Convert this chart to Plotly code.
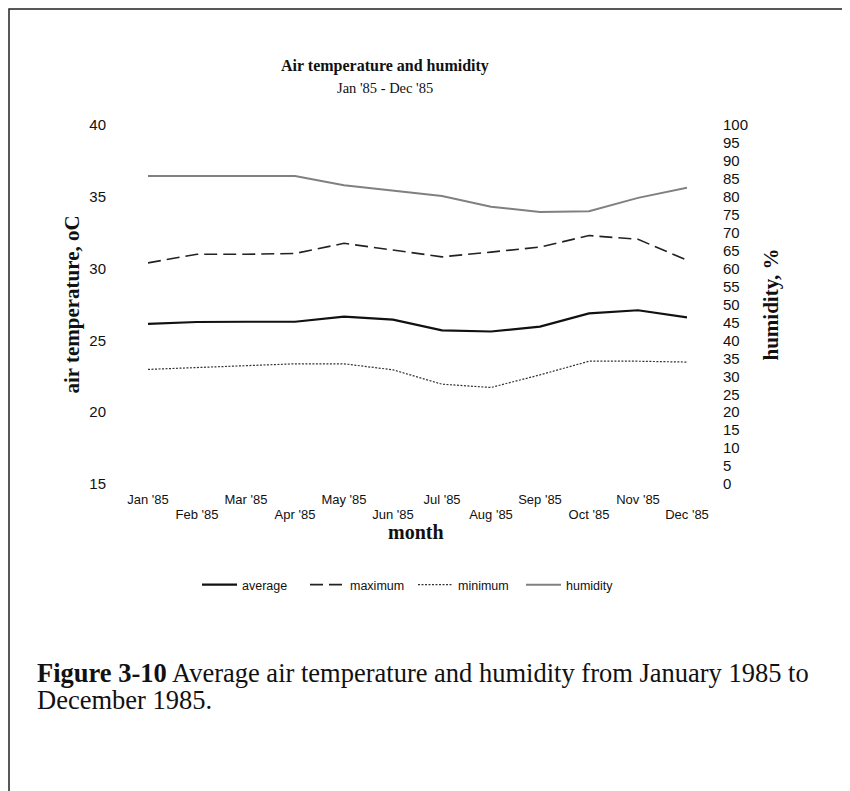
import plotly.graph_objects as go

months = ["Jan '85", "Feb '85", "Mar '85", "Apr '85", "May '85", "Jun '85",
          "Jul '85", "Aug '85", "Sep '85", "Oct '85", "Nov '85", "Dec '85"]
average = [26.15, 26.28, 26.3, 26.3, 26.65, 26.45, 25.7, 25.62, 25.96, 26.88, 27.1, 26.6]
maximum = [30.4, 31.0, 31.0, 31.05, 31.76, 31.3, 30.82, 31.15, 31.5, 32.3, 32.04, 30.59]
minimum = [22.98, 23.1, 23.2, 23.37, 23.37, 22.95, 21.95, 21.72, 22.6, 23.55, 23.55, 23.49]
humidity = [85.8, 85.8, 85.8, 85.8, 83.2, 81.8, 80.2, 77.2, 75.8, 76.0, 79.7, 82.5]

left_ticks = [15, 20, 25, 30, 35, 40]
right_ticks = list(range(0, 101, 5))

SANS = "Liberation Sans, Arial, sans-serif"
SERIF = "Liberation Serif, Times New Roman, serif"
INK = "#111111"

xs = list(range(len(months)))

# page body margin is 8px: figure origin sits at screen (8, 8)
OFF = 8
W, H = 850 - OFF, 791 - OFF
# plot area in screen px
SL, SR, ST, SB = 148, 687, 125, 484
L, R, T, B = SL - OFF, SR - OFF, ST - OFF, SB - OFF

def px_x(sx):
    return (sx - OFF - L) / (R - L)

def px_y(sy):
    return (B - (sy - OFF)) / (B - T)

fig = go.Figure()
fig.add_trace(go.Scatter(x=xs, y=average, name="average", mode="lines",
                         line=dict(color=INK, width=2.2)))
fig.add_trace(go.Scatter(x=xs, y=maximum, name="maximum", mode="lines",
                         line=dict(color="#222222", width=1.6, dash="13px,6px")))
fig.add_trace(go.Scatter(x=xs, y=minimum, name="minimum", mode="lines",
                         line=dict(color="#333333", width=1.2, dash="2px,1.5px")))
fig.add_trace(go.Scatter(x=xs, y=humidity, name="humidity", mode="lines", yaxis="y2",
                         line=dict(color="#808080", width=2)))
# carrier trace so the second x-label row (even months) is drawn
fig.add_trace(go.Scatter(x=[0, 11], y=[None, None], xaxis="x3", showlegend=False,
                         hoverinfo="skip", mode="lines"))

odd_idx = xs[0::2]
even_idx = xs[1::2]

fig.update_layout(
    width=W, height=H,
    margin=dict(l=L, r=W - R, t=T, b=H - B),
    paper_bgcolor="white", plot_bgcolor="white",
    showlegend=True,
    legend=dict(orientation="h", x=px_x(413), xanchor="center", y=px_y(585), yanchor="middle",
                font=dict(family=SANS, size=12.5, color=INK), itemwidth=35, entrywidth=58,
                bgcolor="rgba(0,0,0,0)"),
    xaxis=dict(range=[0, 11], showgrid=False, zeroline=False, showline=False, ticks="",
               tickmode="array", tickvals=odd_idx, ticktext=[months[i] for i in odd_idx],
               tickfont=dict(family=SANS, size=13, color=INK), ticklabelstandoff=6),
    xaxis3=dict(range=[0, 11], overlaying="x", matches="x", showgrid=False, zeroline=False,
                showline=False, ticks="", tickmode="array", tickvals=even_idx,
                ticktext=[months[i] for i in even_idx], anchor="y", side="bottom",
                tickfont=dict(family=SANS, size=13, color=INK), ticklabelstandoff=21),
    yaxis=dict(range=[15, 40], tickmode="array", tickvals=left_ticks, showgrid=False,
               zeroline=False, showline=False, ticks="", ticklabelstandoff=41,
               tickfont=dict(family=SANS, size=15, color=INK),
               title=dict(text="<b>air temperature, oC</b>", standoff=3,
                          font=dict(family=SERIF, size=21, color=INK))),
    yaxis2=dict(range=[0, 100], overlaying="y", side="right", tickmode="array",
                tickvals=right_ticks, showgrid=False, zeroline=False, showline=False,
                ticks="", ticklabelstandoff=35,
                tickfont=dict(family=SANS, size=15, color=INK),
                title=dict(text="<b>humidity, %</b>", standoff=16,
                           font=dict(family=SERIF, size=21, color=INK))),
)

annotations = [
    dict(text="<b>Air temperature and humidity</b>", x=px_x(385), y=px_y(66),
         font=dict(family=SERIF, size=16, color=INK)),
    dict(text="Jan '85 - Dec '85", x=px_x(385), y=px_y(88),
         font=dict(family=SERIF, size=14.5, color=INK)),
    dict(text="<b>month</b>", x=px_x(416), y=px_y(532),
         font=dict(family=SERIF, size=20, color=INK)),
    dict(text="<b>Figure 3-10</b> Average air temperature and humidity from January 1985 to",
         x=px_x(35), y=px_y(673), xanchor="left",
         font=dict(family=SERIF, size=26.5, color=INK)),
    dict(text="December 1985.", x=px_x(35), y=px_y(700), xanchor="left",
         font=dict(family=SERIF, size=26.5, color=INK)),
]
for a in annotations:
    a.setdefault("xanchor", "center")
    fig.add_annotation(xref="paper", yref="paper", yanchor="middle", showarrow=False, **a)

# page frame
fig.add_shape(type="rect", xref="paper", yref="paper",
              x0=px_x(9), x1=px_x(880), y0=px_y(840), y1=px_y(9),
              line=dict(color="#222222", width=1.5), fillcolor="rgba(0,0,0,0)", layer="below")

fig.write_html("out.html")
